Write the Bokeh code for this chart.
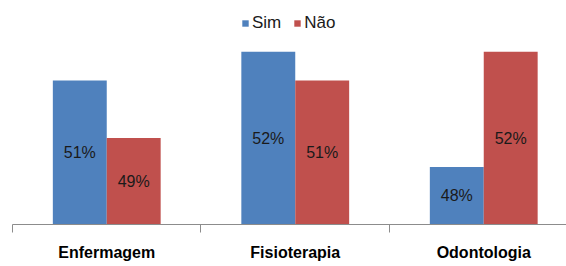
import numpy as np
from bokeh.plotting import figure
from bokeh.models import ColumnDataSource, Range1d, FixedTicker, Legend, LegendItem
from bokeh.core.properties import value
from bokeh.embed import file_html
from bokeh.resources import INLINE

categories = ["Enfermagem", "Fisioterapia", "Odontologia"]
series = ["Sim", "Não"]
sim_values = [5, 6, 2]
nao_values = [3, 5, 6]
sim_labels = ["51%", "52%", "48%"]
nao_labels = ["49%", "51%", "52%"]
colors = ["#4F81BD", "#C0504D"]

FONT = "Liberation Sans"
bar_w = 0.286

p = figure(width=566, height=266, output_backend="svg", toolbar_location=None,
           x_range=Range1d(-0.5, 2.439), y_range=Range1d(0, 7.78),
           min_border_left=12, min_border_right=0, min_border_top=0,
           min_border_bottom=42)
p.title.visible = False
p.outline_line_color = None
p.grid.visible = False
p.yaxis.visible = False
p.background_fill_color = "white"

idx = np.arange(len(categories))
renderers = []
for k, (vals, labs) in enumerate([(sim_values, sim_labels), (nao_values, nao_labels)]):
    xs = idx + (k - 0.5) * bar_w
    src = ColumnDataSource(dict(x=xs, top=vals, ymid=np.array(vals) / 2.0, lab=labs))
    r = p.vbar(x="x", top="top", width=bar_w, bottom=0, source=src,
               fill_color=colors[k], line_color=None)
    renderers.append(r)
    p.text(x="x", y="ymid", text="lab", source=src, text_align="center",
           text_baseline="middle", text_font=value(FONT), text_font_size="16px",
           text_color="#1a1a1a")

ax = p.xaxis[0]
ax.ticker = FixedTicker(ticks=list(idx), minor_ticks=list(idx - 0.5) + [len(categories) - 0.5])
ax.major_label_overrides = {int(i): c for i, c in zip(idx, categories)}
ax.major_tick_line_color = None
ax.major_tick_out = 0
ax.major_tick_in = 0
ax.minor_tick_out = 8
ax.minor_tick_in = 0
ax.minor_tick_line_color = "#8c8c8c"
ax.axis_line_color = "#8c8c8c"
ax.major_label_standoff = 11
ax.major_label_text_font = FONT
ax.major_label_text_font_style = "bold"
ax.major_label_text_font_size = "16px"
ax.major_label_text_color = "black"

legend = Legend(items=[LegendItem(label=s, renderers=[r]) for s, r in zip(series, renderers)],
                orientation="horizontal", location=(229, 191),
                glyph_width=8, glyph_height=8, label_standoff=3, spacing=12,
                label_text_font=FONT, label_text_font_size="17px", label_height=20,
                label_text_color="#1a1a1a", padding=0, margin=0,
                background_fill_alpha=0, border_line_color=None)
p.add_layout(legend)

open("out.html", "w").write(file_html(p, INLINE))
